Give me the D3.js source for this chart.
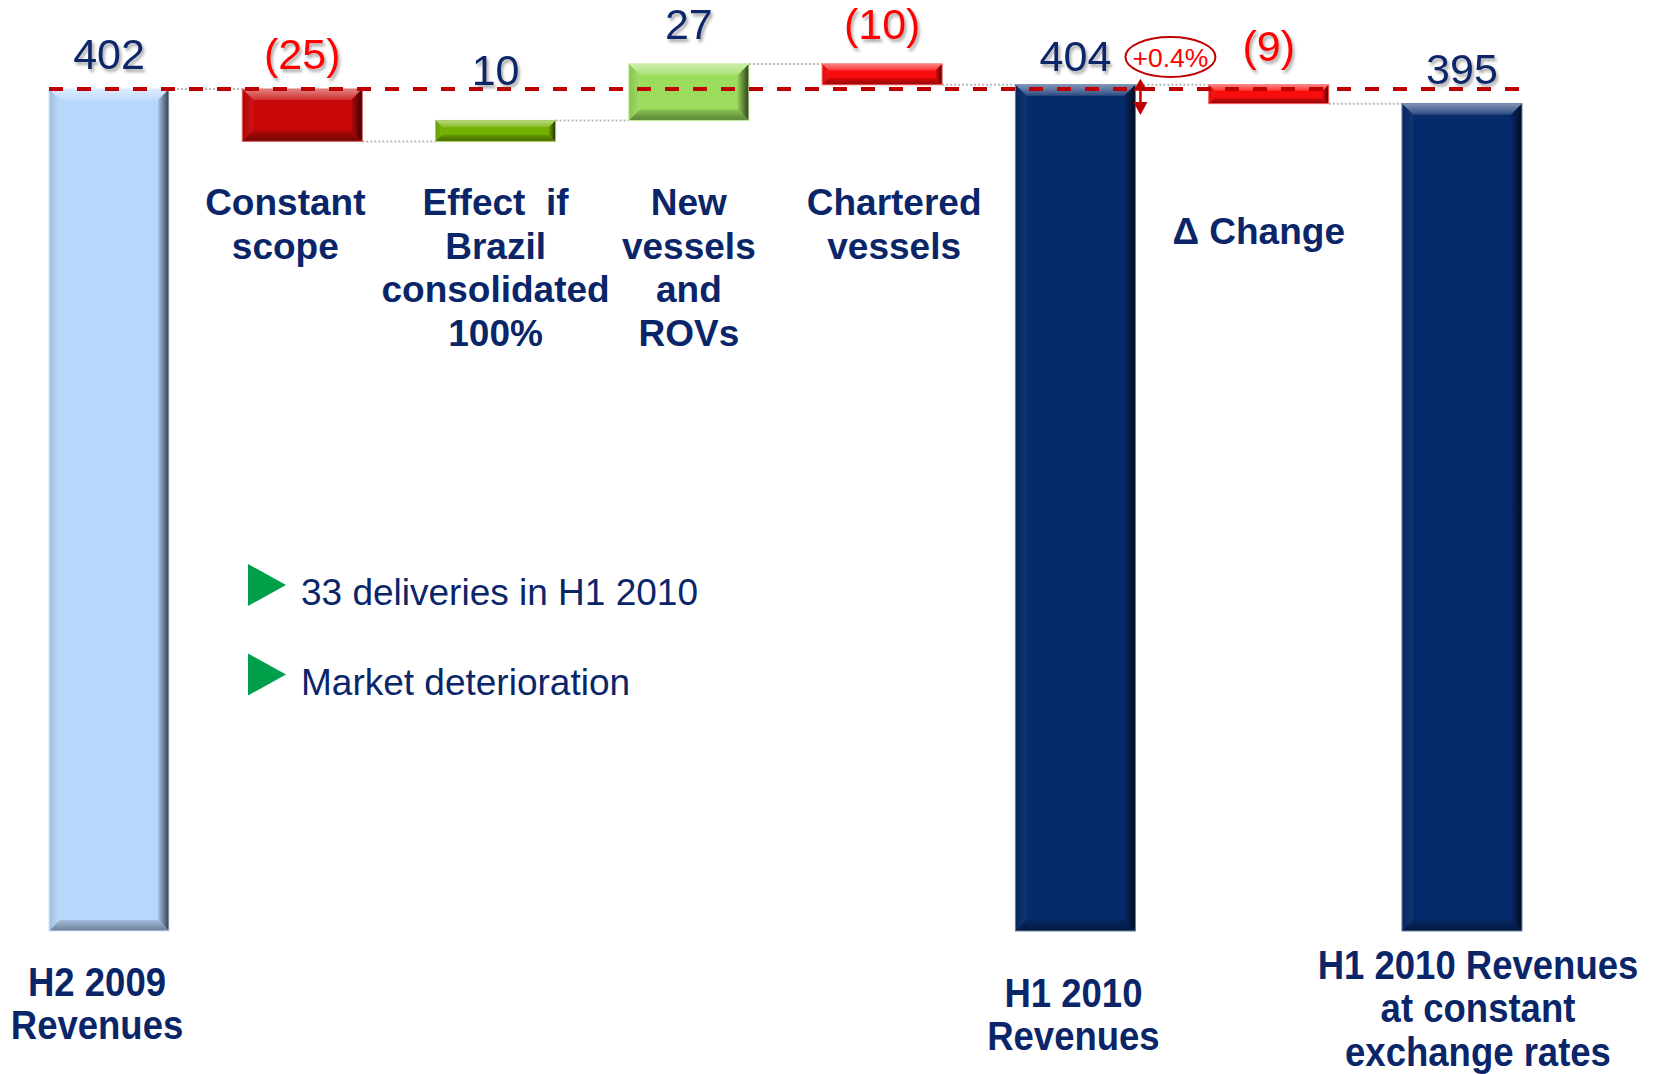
<!DOCTYPE html>
<html>
<head>
<meta charset="utf-8">
<script src="https://cdn.jsdelivr.net/npm/d3@7"></script>
<style>
  html, body { margin: 0; padding: 0; background: #fff; }
  svg { display: block; }
</style>
</head>
<body>
<svg id="chart" width="1662" height="1074"></svg>
<script>
"use strict";

// --- data -------------------------------------------------------------
const categories = [
  "H2 2009 Revenues", "Constant scope", "Effect if Brazil consolidated 100%",
  "New vessels and ROVs", "Chartered vessels", "H1 2010 Revenues",
  "Δ Change", "H1 2010 Revenues at constant exchange rates"
];
const values      = [402, -25, 10, 27, -10, 404, -9, 395];
const isTotal     = [true, false, false, false, false, true, false, true];
const valueLabels = ["402", "(25)", "10", "27", "(10)", "404", "(9)", "395"];
const topLines = [
  null, ["Constant", "scope"], ["Effect  if", "Brazil", "consolidated", "100%"],
  ["New", "vessels", "and", "ROVs"], ["Chartered", "vessels"], null, ["Δ Change"], null
];
const bottomLines = [
  ["H2 2009", "Revenues"], null, null, null, null,
  ["H1 2010", "Revenues"], null, ["H1 2010 Revenues", "at constant", "exchange rates"]
];
const changeLabel = "+0.4%";
const bullets = ["33 deliveries in H1 2010", "Market deterioration"];

// --- styles / layout ---------------------------------------------------
const NAVY = "#0a2669";
const RED = "#ff0000";
const barFill = ["#b7d7fb", "#c80808", "#74b000", "#9cdc5c", "#f80c0c", "#062b6c", "#f80c0c", "#062b6c"];
const labelDx = [0, -17, 0, 0, 12, 0, -10, 0];
const bottomDx = [-12, 0, 0, 0, 0, -2, 0, 16];
const bottomY = [996, 0, 0, 0, 0, 1007, 0, 979];
const valueDy = [0, 0, -15, -5, -5, 6, -4, 0];
const FONT = "Arial, 'Liberation Sans', sans-serif";

const svg = d3.select("#chart");

const x = d3.scaleBand().domain(categories).range([49, 1522]).paddingInner(0.379).paddingOuter(0);
const y = d3.scaleLinear().domain([0, 444.5]).range([931, 0]);
const bw = x.bandwidth();

// waterfall steps
let cum = 0;
const steps = categories.map((c, i) => {
  let start, end;
  if (isTotal[i]) { start = 0; end = values[i]; }
  else { start = cum; end = cum + values[i]; }
  cum = end;
  return { cat: c, i, start, end, lo: Math.min(start, end), hi: Math.max(start, end) };
});

const defs = svg.append("defs");
const shadow = defs.append("filter").attr("id", "shadow")
  .attr("x", "-20%").attr("y", "-20%").attr("width", "150%").attr("height", "150%");
shadow.append("feDropShadow").attr("dx", 2).attr("dy", 3).attr("stdDeviation", 1.6)
  .attr("flood-color", "#555").attr("flood-opacity", 0.5);

const mix = (c, t, k) => d3.interpolateRgb(c, t)(k);

function gradient(id, vertical, c0, c1) {
  const gr = defs.append("linearGradient").attr("id", id)
    .attr("x1", 0).attr("y1", 0).attr("x2", vertical ? 0 : 1).attr("y2", vertical ? 1 : 0);
  gr.append("stop").attr("offset", 0).attr("stop-color", c0);
  gr.append("stop").attr("offset", 1).attr("stop-color", c1);
  return `url(#${id})`;
}

// connectors (grey dotted)
const gConn = svg.append("g");
steps.slice(0, -1).forEach((s, i) => {
  const level = s.end;
  gConn.append("line")
    .attr("x1", x(s.cat) + bw).attr("x2", x(steps[i + 1].cat))
    .attr("y1", y(level)).attr("y2", y(level))
    .attr("stroke", "#b8b8b8").attr("stroke-width", 2).attr("stroke-dasharray", "2 2");
});

// bars with bevels
const gBars = svg.append("g");
steps.forEach(s => {
  const x0 = x(s.cat), y0 = y(s.hi), h = y(s.lo) - y(s.hi), w = bw;
  const base = barFill[s.i];
  const b = Math.min(11, h * 0.32);
  const g = gBars.append("g");
  const topF = gradient("top" + s.i, true, mix(base, "#fff", 0.5), mix(base, "#fff", 0.15));
  const rightF = gradient("right" + s.i, false, mix(base, "#000", 0.08), mix(base, "#000", 0.72));
  const botF = gradient("bot" + s.i, true, mix(base, "#000", 0.12), mix(base, "#000", 0.42));
  const leftF = gradient("left" + s.i, false, mix(base, "#000", 0.12), mix(base, "#fff", 0.05));
  g.append("rect").attr("x", x0).attr("y", y0).attr("width", w).attr("height", h).attr("fill", base);
  const poly = (pts, fill) => g.append("polygon").attr("points", pts.map(p => p.join(",")).join(" ")).attr("fill", fill);
  poly([[x0, y0], [x0 + w, y0], [x0 + w - b, y0 + b], [x0 + b, y0 + b]], topF);
  poly([[x0, y0], [x0 + b, y0 + b], [x0 + b, y0 + h - b], [x0, y0 + h]], leftF);
  poly([[x0, y0 + h], [x0 + b, y0 + h - b], [x0 + w - b, y0 + h - b], [x0 + w, y0 + h]], botF);
  poly([[x0 + w, y0], [x0 + w - b, y0 + b], [x0 + w - b, y0 + h - b], [x0 + w, y0 + h]], rightF);
  g.append("rect").attr("x", x0).attr("y", y0).attr("width", w).attr("height", h)
    .attr("fill", "none").attr("stroke", mix(base, "#fff", 0.4)).attr("stroke-width", 1);
});

// dashed reference line at the starting level
svg.append("line")
  .attr("x1", x(categories[0])).attr("x2", x(categories[categories.length - 1]) + bw)
  .attr("y1", y(values[0])).attr("y2", y(values[0]))
  .attr("stroke", "#c00000").attr("stroke-width", 4).attr("stroke-dasharray", "14 14");

// value labels
svg.append("g").selectAll("text").data(steps).join("text")
  .attr("x", d => x(d.cat) + bw / 2)
  .attr("y", d => y(d.hi) - 20 + valueDy[d.i])
  .attr("text-anchor", "middle")
  .attr("font-family", FONT).attr("font-size", 43)
  .attr("fill", d => values[d.i] < 0 ? RED : NAVY)
  .attr("filter", "url(#shadow)")
  .text(d => valueLabels[d.i]);

// category labels above (bold)
steps.forEach(s => {
  const lines = topLines[s.i];
  if (!lines) return;
  const isDelta = s.cat === "Δ Change";
  const cx = x(s.cat) + bw / 2 + labelDx[s.i];
  const t = svg.append("text")
    .attr("text-anchor", "middle")
    .attr("font-family", FONT).attr("font-weight", "bold").attr("font-size", 37)
    .attr("fill", NAVY)
    .attr("x", cx)
    .attr("y", isDelta ? 244 : 215)
    .style("white-space", "pre");
  lines.forEach((ln, k) => {
    t.append("tspan").attr("x", cx).attr("dy", k === 0 ? 0 : 43.5).text(ln);
  });
});

// category labels below (bold, condensed)
steps.forEach(s => {
  const lines = bottomLines[s.i];
  if (!lines) return;
  const cx = x(s.cat) + bw / 2 + bottomDx[s.i];
  const g = svg.append("g").attr("transform", `translate(${cx},${bottomY[s.i]}) scale(0.88,1)`);
  const t = g.append("text").attr("text-anchor", "middle")
    .attr("font-family", FONT).attr("font-weight", "bold").attr("font-size", 41.5)
    .attr("fill", NAVY);
  lines.forEach((ln, k) => t.append("tspan").attr("x", 0).attr("dy", k === 0 ? 0 : 43.5).text(ln));
});

// change marker between the two revenue bars
const h1 = categories[5];
const ax = x(h1) + bw + 5;
const arrowTop = y(values[5]) - 6, arrowBot = y(values[0]) + 26;
svg.append("line").attr("x1", ax).attr("x2", ax).attr("y1", arrowTop + 8).attr("y2", arrowBot - 8)
  .attr("stroke", "#c00000").attr("stroke-width", 2.5);
svg.append("polygon").attr("points", `${ax},${arrowTop} ${ax - 7},${arrowTop + 12} ${ax + 7},${arrowTop + 12}`).attr("fill", "#c00000");
svg.append("polygon").attr("points", `${ax},${arrowBot} ${ax - 7},${arrowBot - 13} ${ax + 7},${arrowBot - 13}`).attr("fill", "#c00000");

const ecx = x(h1) + bw + 35, ecy = 57;
svg.append("ellipse").attr("cx", ecx).attr("cy", ecy).attr("rx", 45).attr("ry", 20)
  .attr("fill", "#fff").attr("stroke", "#c00000").attr("stroke-width", 2);
svg.append("text").attr("x", ecx).attr("y", ecy + 9.5).attr("text-anchor", "middle")
  .attr("font-family", FONT).attr("font-size", 26.5).attr("fill", RED).text(changeLabel);

// bullet notes
const gB = svg.append("g");
bullets.forEach((txt, k) => {
  const by = 605 + k * 89.5;
  gB.append("polygon")
    .attr("points", `248,${by - 41} 286,${by - 20} 248,${by + 1}`)
    .attr("fill", "#00a04a");
  gB.append("text").attr("x", 301).attr("y", by)
    .attr("font-family", FONT).attr("font-size", 37).attr("fill", NAVY).text(txt);
});
</script>
</body>
</html>
